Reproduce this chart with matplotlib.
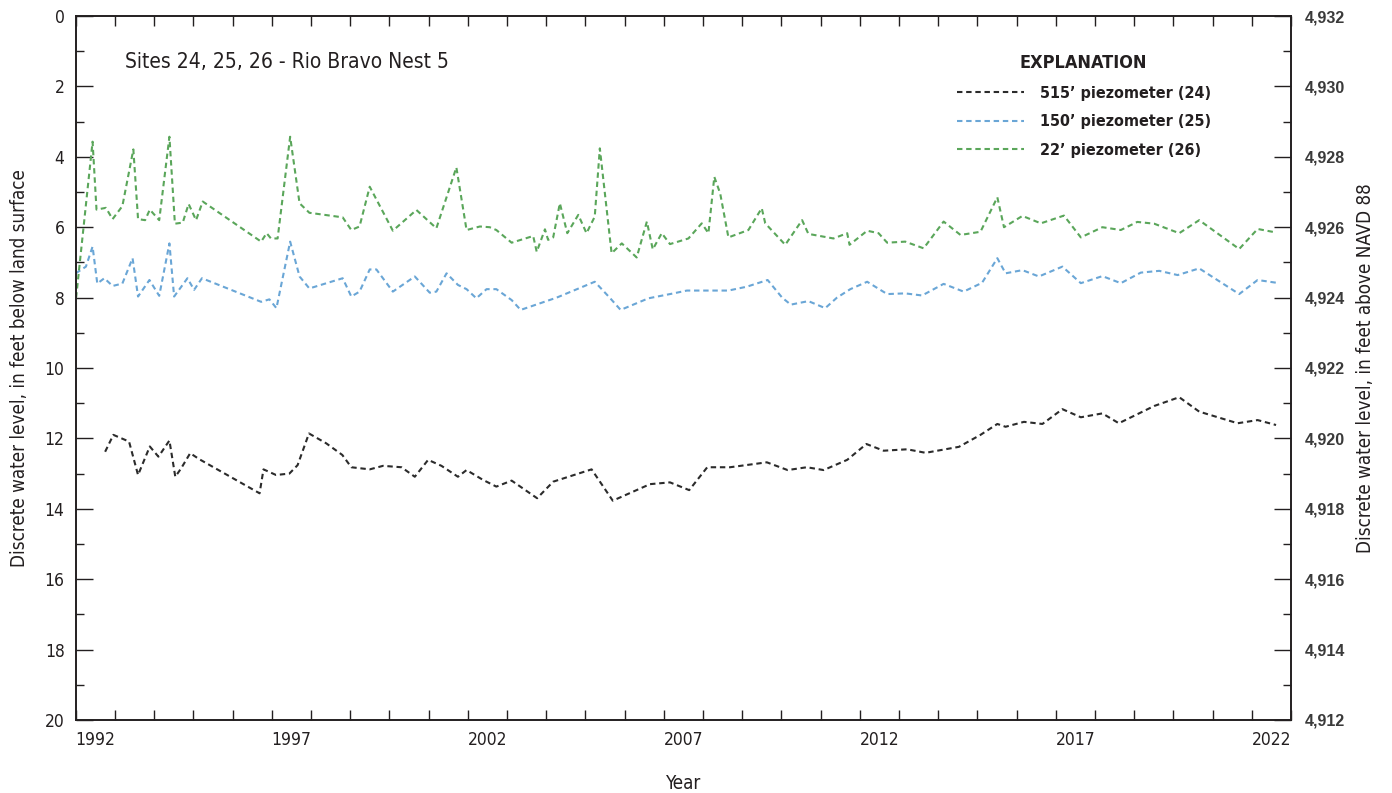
import matplotlib.pyplot as plt
from matplotlib import font_manager
from matplotlib.ticker import MultipleLocator, FixedLocator, FuncFormatter

# 515' piezometer (24)
years_24 = [1992.75, 1992.96, 1993.36, 1993.59, 1993.89, 1994.11, 1994.39, 1994.54, 1994.69, 1994.92,
            1995.15, 1996.69, 1996.79, 1997.11, 1997.45, 1997.66, 1997.95, 1998.39, 1998.80, 1999.03,
            1999.50, 1999.84, 2000.31, 2000.65, 2000.99, 2001.33, 2001.75, 2001.97, 2002.39, 2002.73,
            2003.12, 2003.77, 2004.18, 2005.16, 2005.70, 2006.65, 2007.16, 2007.65, 2008.11, 2008.69,
            2009.63, 2010.16, 2010.65, 2011.08, 2011.68, 2012.17, 2012.61, 2013.21, 2013.68, 2014.53,
            2015.08, 2015.51, 2015.72, 2016.19, 2016.66, 2017.17, 2017.64, 2018.19, 2018.61, 2019.51,
            2020.15, 2020.66, 2021.64, 2022.15, 2022.62]
depth_24 = [12.38, 11.90, 12.09, 13.04, 12.23, 12.52, 12.06, 13.09, 12.85, 12.42,
            12.59, 13.56, 12.88, 13.04, 13.00, 12.76, 11.86, 12.14, 12.47, 12.82,
            12.88, 12.78, 12.82, 13.09, 12.61, 12.78, 13.09, 12.90, 13.18, 13.37,
            13.20, 13.70, 13.23, 12.88, 13.77, 13.30, 13.25, 13.47, 12.82, 12.82,
            12.68, 12.90, 12.82, 12.90, 12.61, 12.16, 12.35, 12.31, 12.41, 12.24,
            11.90, 11.59, 11.67, 11.53, 11.59, 11.17, 11.40, 11.29, 11.57, 11.08,
            10.83, 11.24, 11.57, 11.48, 11.62]

# 150' piezometer (25)
years_25 = [1992.00, 1992.26, 1992.43, 1992.55, 1992.73, 1992.94, 1993.19, 1993.45, 1993.59, 1993.88,
            1994.13, 1994.39, 1994.51, 1994.85, 1995.02, 1995.22, 1996.73, 1996.94, 1997.12, 1997.47,
            1997.71, 1997.96, 1998.81, 1999.03, 1999.24, 1999.50, 1999.67, 2000.09, 2000.65, 2001.03,
            2001.20, 2001.46, 2001.75, 2001.97, 2002.22, 2002.48, 2002.73, 2003.12, 2003.35, 2004.27,
            2005.24, 2005.62, 2005.90, 2006.61, 2007.25, 2007.59, 2008.65, 2009.12, 2009.65, 2010.02,
            2010.24, 2010.69, 2011.12, 2011.42, 2011.76, 2012.19, 2012.70, 2013.16, 2013.59, 2014.14,
            2014.65, 2015.12, 2015.51, 2015.72, 2016.15, 2016.57, 2017.17, 2017.64, 2018.19, 2018.66,
            2019.17, 2019.64, 2020.11, 2020.66, 2021.68, 2022.15, 2022.70]
depth_25 = [7.31, 7.12, 6.55, 7.60, 7.45, 7.67, 7.60, 6.88, 7.97, 7.50,
            7.95, 6.46, 7.97, 7.45, 7.78, 7.45, 8.12, 8.05, 8.30, 6.41,
            7.40, 7.74, 7.45, 7.97, 7.83, 7.20, 7.20, 7.83, 7.40, 7.86,
            7.83, 7.31, 7.64, 7.76, 8.02, 7.76, 7.76, 8.07, 8.35, 8.00,
            7.55, 8.00, 8.35, 8.02, 7.88, 7.80, 7.80, 7.69, 7.50, 8.00,
            8.20, 8.10, 8.30, 8.00, 7.76, 7.55, 7.90, 7.88, 7.94, 7.61,
            7.83, 7.58, 6.88, 7.31, 7.22, 7.40, 7.12, 7.59, 7.39, 7.59,
            7.29, 7.24, 7.36, 7.17, 7.90, 7.50, 7.59]

# 22' piezometer (26)
years_26 = [1992.01, 1992.43, 1992.53, 1992.77, 1992.94, 1993.19, 1993.47, 1993.59, 1993.77, 1993.89,
            1994.13, 1994.39, 1994.53, 1994.73, 1994.88, 1995.07, 1995.24, 1996.73, 1996.87, 1996.98,
            1997.15, 1997.47, 1997.71, 1997.96, 1998.81, 1999.03, 1999.24, 1999.50, 2000.09, 2000.69,
            2001.20, 2001.71, 2001.97, 2002.31, 2002.56, 2002.73, 2003.12, 2003.67, 2003.76, 2003.97,
            2004.05, 2004.18, 2004.35, 2004.54, 2004.82, 2005.03, 2005.24, 2005.37, 2005.67, 2005.93,
            2006.31, 2006.57, 2006.72, 2006.95, 2007.16, 2007.63, 2007.97, 2008.14, 2008.29, 2008.44,
            2008.65, 2009.16, 2009.50, 2009.59, 2010.10, 2010.53, 2010.69, 2011.33, 2011.68, 2011.74,
            2012.19, 2012.48, 2012.70, 2013.16, 2013.63, 2014.14, 2014.57, 2015.08, 2015.51, 2015.68,
            2016.15, 2016.62, 2017.21, 2017.64, 2018.19, 2018.66, 2019.08, 2019.51, 2020.15, 2020.66,
            2021.68, 2022.15, 2022.62]
depth_26 = [8.00, 3.57, 5.50, 5.45, 5.77, 5.40, 3.79, 5.77, 5.80, 5.50,
            5.80, 3.43, 5.90, 5.87, 5.34, 5.80, 5.27, 6.41, 6.17, 6.32,
            6.32, 3.43, 5.32, 5.59, 5.72, 6.08, 5.98, 4.85, 6.10, 5.51,
            6.03, 4.30, 6.08, 5.98, 6.00, 6.08, 6.44, 6.25, 6.70, 6.06,
            6.36, 6.29, 5.32, 6.17, 5.65, 6.17, 5.70, 3.76, 6.74, 6.46,
            6.86, 5.84, 6.63, 6.17, 6.48, 6.32, 5.89, 6.17, 4.57, 5.04,
            6.29, 6.08, 5.46, 5.89, 6.50, 5.80, 6.19, 6.32, 6.17, 6.50,
            6.10, 6.17, 6.44, 6.41, 6.60, 5.84, 6.22, 6.13, 5.15, 6.00,
            5.68, 5.89, 5.67, 6.29, 6.00, 6.08, 5.85, 5.90, 6.17, 5.80,
            6.62, 6.05, 6.15]

year_labels = [1992, 1997, 2002, 2007, 2012, 2017, 2022]
land_surface = 4932

# pick a narrow face if one is installed, else condensed DejaVu
names = {f.name for f in font_manager.fontManager.ttflist}
if 'Liberation Sans Narrow' in names:
    FONT = ['Liberation Sans Narrow', 'DejaVu Sans']
    plt.rcParams['font.family'] = FONT
else:
    FONT = ['DejaVu Sans']
    plt.rcParams['font.family'] = FONT
    plt.rcParams['font.stretch'] = 'condensed'
ink = '#231f20'

fig = plt.figure(figsize=(13.92, 7.93), dpi=100)
ax = fig.add_axes([0.0544, 0.0921, 0.8730, 0.8877])

dash = (0, (2.6, 1.8))
ax.plot(years_24, depth_24, color='#2b2b2b', lw=1.5, linestyle=dash, label='515\u2019 piezometer (24)')
ax.plot(years_25, depth_25, color='#6aa6d6', lw=1.5, linestyle=dash, label='150\u2019 piezometer (25)')
ax.plot(years_26, depth_26, color='#5aa65a', lw=1.5, linestyle=dash, label='22\u2019 piezometer (26)')

ax.set_xlim(1992, 2023)
ax.set_ylim(20, 0)

ax.xaxis.set_major_locator(MultipleLocator(1))
ax.xaxis.set_major_formatter(FuncFormatter(lambda v, p: ''))
ax.xaxis.set_minor_locator(FixedLocator([y + 0.5 for y in year_labels]))
ax.xaxis.set_minor_formatter(FuncFormatter(lambda v, p: f'{int(v)}'))
ax.tick_params(axis='x', which='major', direction='in', length=7, width=1, color=ink, top=True)
ax.tick_params(axis='x', which='minor', length=0, pad=8, labelsize=12.5, labelcolor=ink)

ax.yaxis.set_major_locator(MultipleLocator(2))
ax.yaxis.set_minor_locator(MultipleLocator(1))
ax.tick_params(axis='y', which='major', direction='in', length=12, width=1, color=ink,
               labelsize=12.5, labelcolor=ink, pad=8)
ax.tick_params(axis='y', which='minor', direction='in', length=6, width=1, color=ink)

for s in ax.spines.values():
    s.set_color(ink)
    s.set_linewidth(1.2)

ax.set_ylabel('Discrete water level, in feet below land surface', fontsize=13.5, color=ink, labelpad=11)
ax.set_xlabel('Year', fontsize=13.5, color=ink, labelpad=18)

ax2 = ax.twinx()
ax2.set_ylim(land_surface - 20, land_surface)
ax2.yaxis.set_major_locator(MultipleLocator(2))
ax2.yaxis.set_minor_locator(MultipleLocator(1))
ax2.yaxis.set_major_formatter(FuncFormatter(lambda v, p: f'{int(v):,}'))
ax2.tick_params(axis='y', which='major', direction='in', length=12, width=1, color=ink, pad=10)
ax2.tick_params(axis='y', which='minor', direction='in', length=6, width=1, color=ink)
for lab in ax2.get_yticklabels():
    lab.set_family(['Liberation Sans', 'DejaVu Sans'])
    lab.set_stretch('normal')
    lab.set_fontsize(11.5)
    lab.set_fontweight('bold')
    lab.set_color('#3a3a3a')
ax2.set_ylabel('Discrete water level, in feet above NAVD 88', fontsize=13.5, color=ink, labelpad=8)
for s in ax2.spines.values():
    s.set_color(ink)
    s.set_linewidth(1.2)

ax.text(1993.25, 1.32, 'Sites 24, 25, 26 - Rio Bravo Nest 5', fontsize=15, color=ink, va='center')

leg = ax.legend(loc='upper left', bbox_to_anchor=(0.713, 0.966), frameon=False,
                title='EXPLANATION', handlelength=4.2, handletextpad=1.0,
                labelspacing=0.85, prop={'family': FONT, 'weight': 'bold', 'size': 11.5})
leg.get_title().set_fontweight('bold')
leg.get_title().set_fontsize(13)
leg.get_title().set_color(ink)
for t in leg.get_texts():
    t.set_color(ink)

fig.savefig('out.png', dpi=100)
